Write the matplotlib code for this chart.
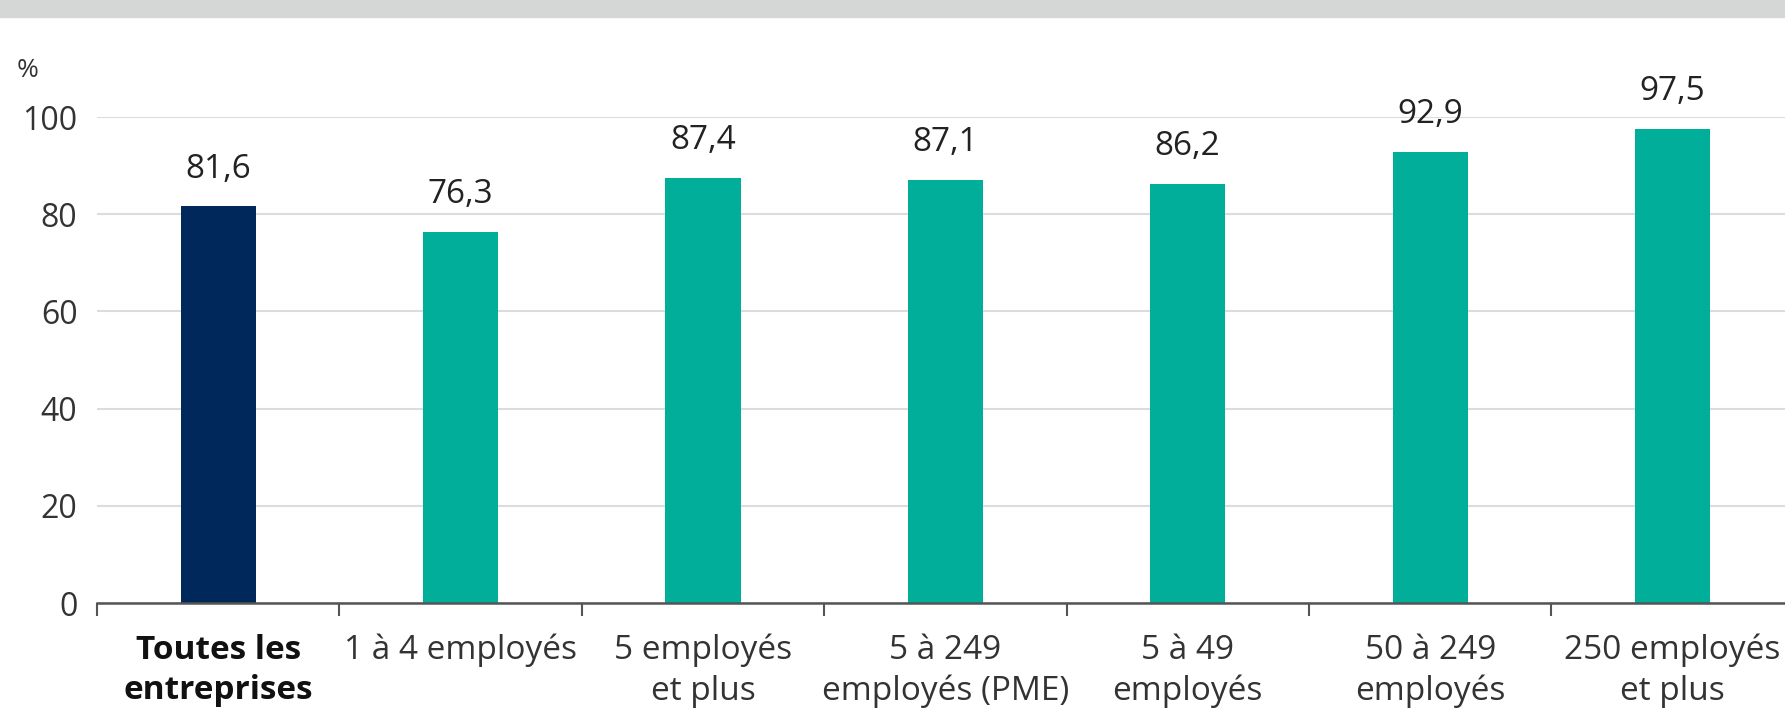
import matplotlib.pyplot as plt
import numpy as np

# Data
categories = ['Toutes les\nentreprises', '1 à 4 employés', '5 employés\net plus',
              '5 à 249\nemployés (PME)', '5 à 49\nemployés', '50 à 249\nemployés',
              '250 employés\net plus']
values = [81.6, 76.3, 87.4, 87.1, 86.2, 92.9, 97.5]
value_labels = ['81,6', '76,3', '87,4', '87,1', '86,2', '92,9', '97,5']
yticks = [0, 20, 40, 60, 80, 100]

navy = '#00285a'
teal = '#00ae9a'
colors = [navy] + [teal] * (len(values) - 1)

plt.rcParams['font.family'] = ['Open Sans', 'DejaVu Sans']

fig = plt.figure(figsize=(17.85, 7.18), dpi=100)

# grey band on top
fig.patches.append(plt.Rectangle((0, 0.976), 1, 0.024, transform=fig.transFigure,
                                 color='#d5d7d6', zorder=0))

ax = fig.add_axes([0.0543, 0.160, 0.9506, 0.677])
x = np.arange(len(values))
bars = ax.bar(x, values, width=0.31, color=colors, zorder=3)

for xi, v, lab in zip(x, values, value_labels):
    ax.annotate(lab, (xi, v), xytext=(0, 15), textcoords='offset points',
                ha='center', va='bottom', fontsize=24, color='#222222')

ax.set_xlim(-0.5, len(values) - 0.5)
ax.set_ylim(0, 100)
ax.set_yticks(yticks)
ax.set_yticklabels([str(t) for t in yticks], fontsize=23, color='#333333')
ax.tick_params(axis='y', length=0, pad=14)
ax.grid(axis='y', color='#dcdcdc', linewidth=1.5, zorder=0)

# category ticks at boundaries, labels at centres
ax.set_xticks(np.arange(-0.5, len(values) - 0.5, 1.0))
ax.set_xticklabels([])
ax.tick_params(axis='x', length=9, width=1.5, color='#555555')
ax.set_xticks(x, minor=True)
ax.set_xticklabels(categories, minor=True, fontsize=24, color='#333333', linespacing=1.3)
ax.tick_params(axis='x', which='minor', length=0, pad=22)
for lab in ax.get_xticklabels(minor=True)[:1]:
    lab.set_fontweight('bold')
    lab.set_color('#111111')

for s in ['top', 'right', 'left']:
    ax.spines[s].set_visible(False)
ax.spines['bottom'].set_color('#555555')
ax.spines['bottom'].set_linewidth(1.8)
ax.spines['bottom'].set_zorder(4)

fig.text(0.0095, 0.885, '%', fontsize=19, color='#333333', ha='left', va='bottom')

fig.savefig('out.png', dpi=100)
